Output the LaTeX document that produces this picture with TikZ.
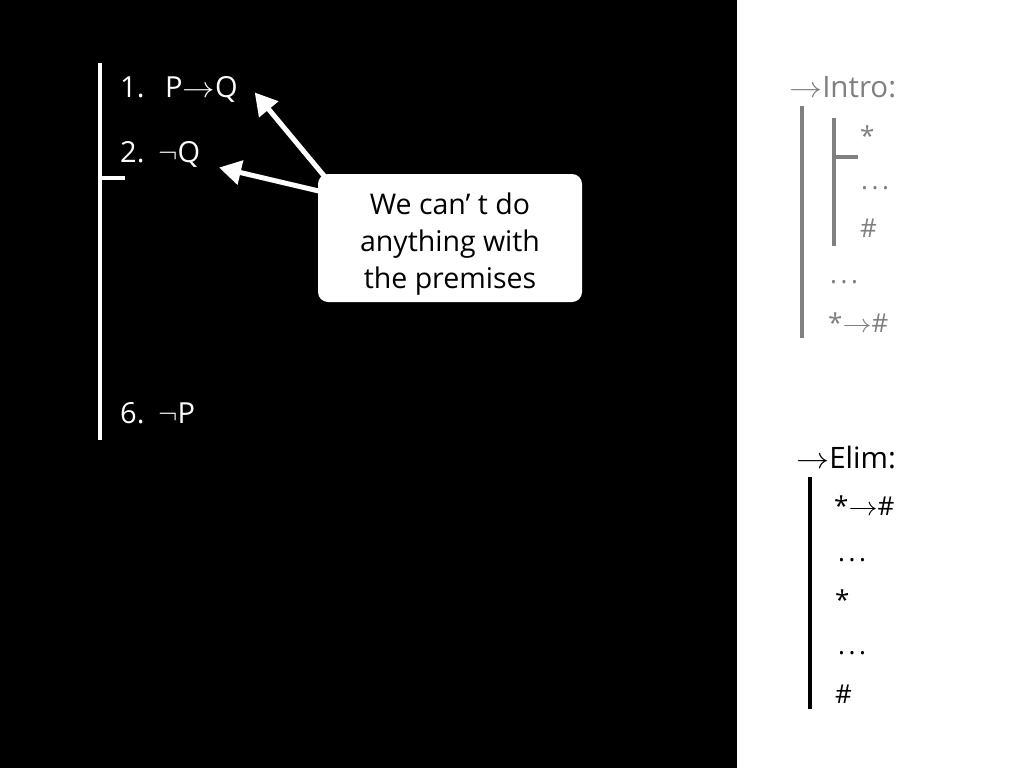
\RequirePackage{fix-cm}
\documentclass[tikz,border=0pt]{standalone}
\usepackage{graphicx}
\usepackage{fontspec}
\setmainfont{Open Sans}
\usetikzlibrary{arrows.meta}
\definecolor{introgray}{RGB}{128,128,128}
\newcommand{\imp}{\scalebox{1.12}[1]{$\rightarrow$}}
\newcommand{\gap}{.\kern3.5pt.\kern3.5pt.}
\tikzstyle{bar}=[line width=4pt]
\tikzstyle{line}=[anchor=base west, inner sep=0pt, text=white, font=\fontsize{29}{34}\selectfont]
\tikzstyle{rule}=[anchor=base west, inner sep=0pt, font=\fontsize{29.5}{35}\selectfont]
\tikzstyle{sym}=[anchor=base west, inner sep=0pt, font=\fontsize{26}{31}\selectfont]
\tikzstyle{callout}=[fill=white, rounded corners=10pt, minimum width=264pt, minimum height=128pt, inner sep=0pt]
\tikzstyle{calltext}=[align=center, inner sep=0pt, font=\fontsize{28.5}{37}\selectfont]
\tikzstyle{callarrow}=[white, line width=5pt, -{Triangle[length=22pt, width=24pt]}, shorten >=-2pt]

\begin{document}
\begin{tikzpicture}[x=1pt, y=-1pt]
    \fill[black] (0,0) rectangle (737,768);
    \fill[white] (737,0) rectangle (1024,768);
    \useasboundingbox (0,0) rectangle (1024,768);

    % the proof
    \draw[bar, white] (100,63)--(100,440);
    \draw[bar, white] (100,178)--(125,178);
    \node[line] (n1) at (120,97) {1.};
    \node[line] (f1) at (165,97) {P\imp Q};
    \node[line] (n2) at (120,162) {2.};
    \node[line] (f2) at (158,162) {$\neg$Q};
    \node[line] (n6) at (120,423) {6.};
    \node[line] (f6) at (158,423) {$\neg$P};

    % callout
    \draw[callarrow] (340,195)--(256,94);
    \draw[callarrow] (340,196)--(221,168);
    \node[callout] (note) at (450,238) {};
    \node[calltext, yshift=-6pt] (notetext) at (note.center) {We can’ t do\\anything with\\the premises};

    % intro rule
    \node[rule, text=introgray] (intro) at (789,97) {\imp Intro:};
    \draw[bar, introgray] (802,106)--(802,338);
    \draw[bar, introgray] (834,118)--(834,246);
    \draw[bar, introgray] (834,157)--(858,157);
    \node[sym, text=introgray] (ia) at (860,145) {*};
    \node[sym, text=introgray] (ib) at (861,189) {\gap};
    \node[sym, text=introgray] (ic) at (860,237) {\#};
    \node[sym, text=introgray] (id) at (830,283) {\gap};
    \node[sym, text=introgray] (ie) at (828,332) {*\imp\#};

    % elim rule
    \node[rule] (elim) at (796,468) {\imp Elim:};
    \draw[bar] (810,477)--(810,709);
    \node[sym] (ea) at (834,515) {*\imp\#};
    \node[sym] (eb) at (838,561) {\gap};
    \node[sym] (ec) at (835,609) {*};
    \node[sym] (ed) at (838,654) {\gap};
    \node[sym] (ee) at (835,703) {\#};
\end{tikzpicture}
\end{document}
